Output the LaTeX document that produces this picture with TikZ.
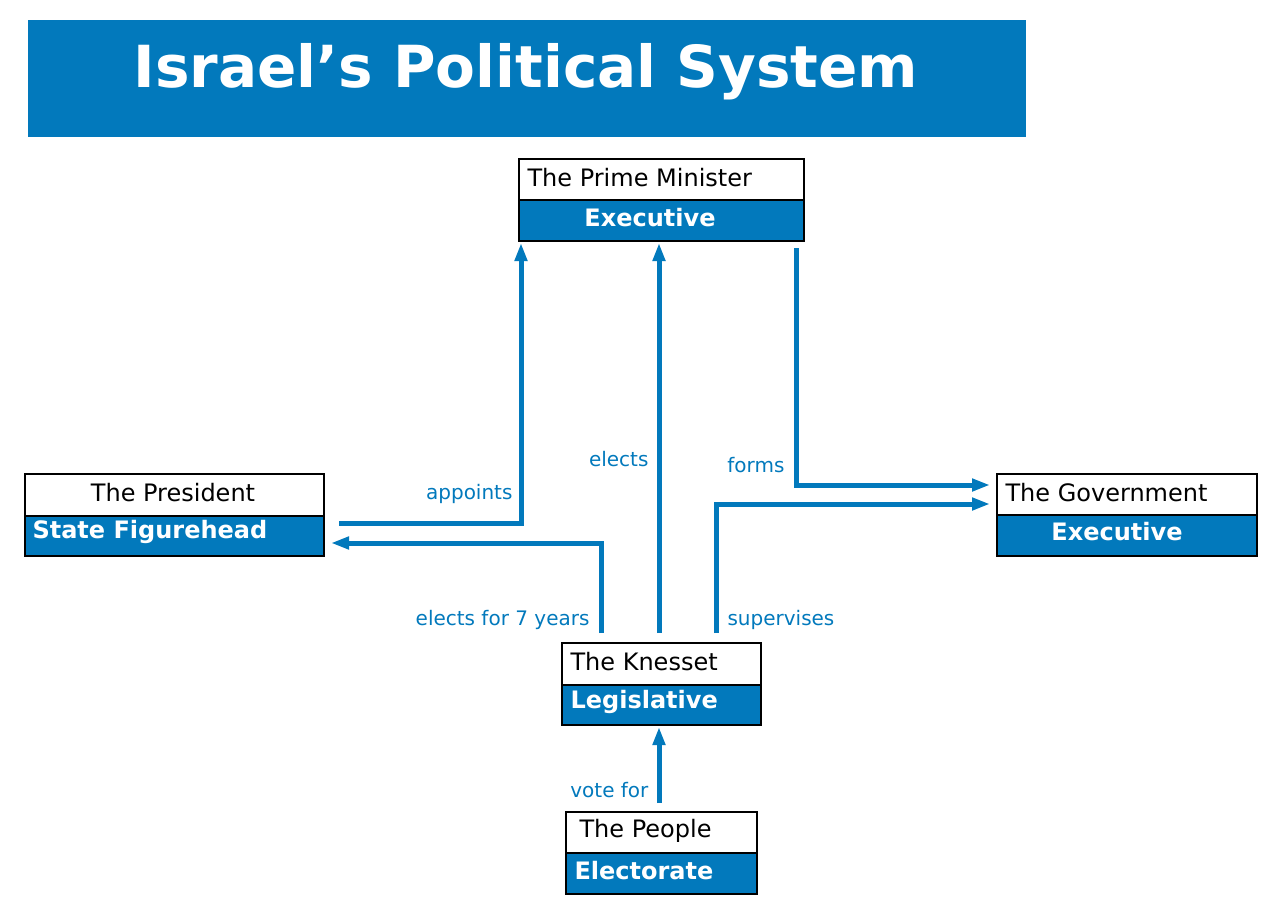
\documentclass[tikz,border=0pt]{standalone}
\usepackage{fontspec}
\setmainfont{DejaVu Sans}
\usetikzlibrary{arrows.meta}
\definecolor{ib}{HTML}{0279BC}
\begin{document}
\begin{tikzpicture}[x=1pt,y=-1pt,
  top/.style={draw=black,line width=1.5pt,fill=white,inner sep=0pt,anchor=north west},
  bot/.style={draw=black,line width=1.5pt,fill=ib,inner sep=0pt,anchor=north west},
  tt/.style={font=\fontsize{24}{24}\selectfont,text=black},
  bt/.style={font=\fontsize{24}{24}\selectfont\bfseries,text=white},
  lab/.style={font=\fontsize{20}{20}\selectfont,text=ib},
  con/.style={draw=ib,line width=5pt,-{Triangle[length=18pt,width=12pt]}},
  line/.style={draw=ib,line width=5pt}]
\useasboundingbox (0,0) rectangle (1280,910);
\node[fill=ib,minimum width=998pt,minimum height=117pt,anchor=north west,inner sep=0pt] (title) at (28,20) {};
\node[font=\fontsize{58}{58}\selectfont\bfseries,text=white] (tt) at (526,72) {Israel’s Political System};
% boxes
\node[top,minimum width=285pt,minimum height=41pt] (pmt) at (518,158) {};
\node[bot,minimum width=285pt,minimum height=41pt] (pmb) at (518,199) {};
\node[tt,anchor=west] at (524,178) {The Prime Minister};
\node[bt] at (650,218) {Executive};
\node[top,minimum width=299pt,minimum height=42pt] (prt) at (24,473) {};
\node[bot,minimum width=299pt,minimum height=40pt] (prb) at (24,515) {};
\node[tt] at (173,493) {The President};
\node[bt,anchor=west] at (29,532) {State Figurehead};
\node[top,minimum width=260pt,minimum height=41pt] (gvt) at (996,473) {};
\node[bot,minimum width=260pt,minimum height=41pt] (gvb) at (996,514) {};
\node[tt,anchor=west] at (1002,493) {The Government};
\node[bt] at (1117,532) {Executive};
\node[top,minimum width=199pt,minimum height=42pt] (knt) at (561,642) {};
\node[bot,minimum width=199pt,minimum height=40pt] (knb) at (561,684) {};
\node[tt,anchor=west] at (567,662) {The Knesset};
\node[bt,anchor=west] at (567,702) {Legislative};
\node[top,minimum width=191pt,minimum height=41pt] (ppt) at (565,811) {};
\node[bot,minimum width=191pt,minimum height=41pt] (ppb) at (565,852) {};
\node[tt,anchor=west] at (576,831) {The People};
\node[bt,anchor=west] at (571,871) {Electorate};
% connector ends
\coordinate (a1) at (339,523); \coordinate (a2) at (521,243);
\coordinate (b1) at (601,633); \coordinate (b2) at (331,543);
\coordinate (c1) at (659,633); \coordinate (c2) at (659,243);
\coordinate (d1) at (796,248); \coordinate (d2) at (990,485);
\coordinate (e1) at (716,633); \coordinate (e2) at (990,504);
\coordinate (f1) at (659,803); \coordinate (f2) at (659,727);
\draw[con] (a1) -| (a2);
\draw[con] (b1) |- (b2);
\draw[con] (c1) -- (c2);
\draw[con] (d1) |- (d2);
\draw[con] (e1) |- (e2);
\draw[con] (f1) -- (f2);
\node[lab,anchor=east] at (516,494) {appoints};
\node[lab,anchor=east] at (652,459) {elects};
\node[lab,anchor=east] at (788,465) {forms};
\node[lab,anchor=east] at (593,620) {elects for 7 years};
\node[lab,anchor=west] at (724,620) {supervises};
\node[lab,anchor=east] at (652,790) {vote for};
\end{tikzpicture}
\end{document}
